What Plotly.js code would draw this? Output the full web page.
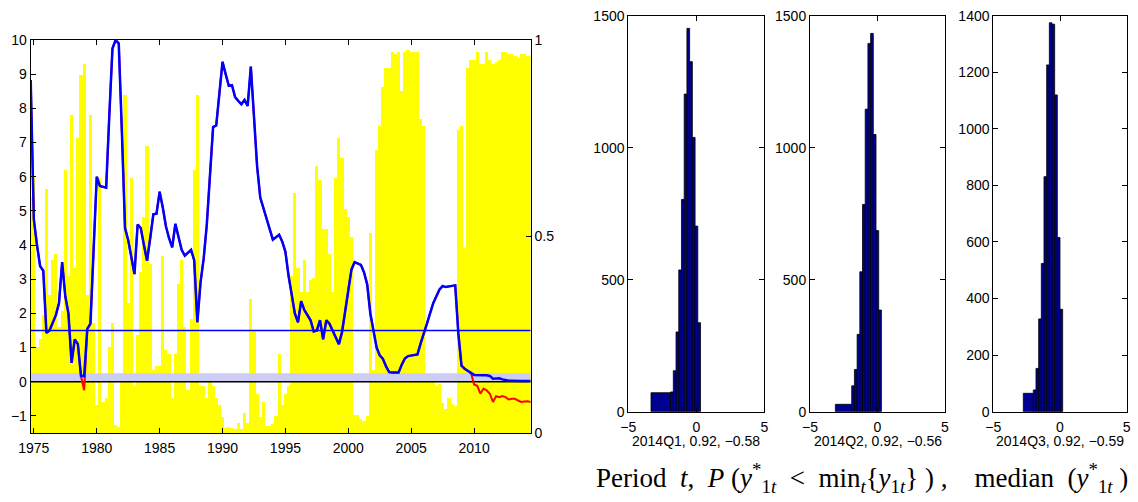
<!DOCTYPE html>
<html><head><meta charset="utf-8">
<script src="https://cdn.plot.ly/plotly-3.0.1.min.js"></script>
<style>html,body{margin:0;padding:0;background:#fff;} #chart{width:1138px;height:502px;}</style>
</head><body><div id="chart"></div>
<script>
// ---- data ----
const firstQuarter = 1974.75;   // time of first plotted quarter
const quarterStep = 0.25;
const probBars = [
0.60,0.65,0.22,0.24,0.30,0.62,0.35,0.44,0.455,0.27,
0.31,0.67,0.40,0.81,0.42,0.75,0.91,0.94,0.35,0.81,
0.28,0.07,0.65,0.08,0.09,0.22,0.28,0.02,0.015,0.15,
0.86,0.33,0.65,0.12,0.25,0.41,0.55,0.73,0.43,0.16,
0.17,0.17,0.45,0.21,0.20,0.09,0.20,0.38,0.44,0.27,
0.11,0.29,0.67,0.86,0.12,0.12,0.09,0.13,0.12,0.09,
0.07,0.04,0.014,0.015,0.014,0.01,0.026,0.01,0.05,0.026,
0.34,0.26,0.10,0.04,0.08,0.018,0.018,0.022,0.043,0.20,
0.07,0.10,0.12,0.40,0.61,0.42,0.36,0.44,0.36,0.39,
0.395,0.68,0.645,0.52,0.52,0.455,0.36,0.65,0.75,0.70,
0.57,0.55,0.50,0.047,0.045,0.035,0.03,0.043,0.51,0.16,
0.72,0.78,0.88,0.93,0.93,0.97,0.965,0.97,0.87,0.97,
0.975,0.97,0.97,0.97,0.80,0.78,0.13,0.13,0.13,0.12,
0.124,0.077,0.06,0.09,0.073,0.069,0.77,0.78,0.47,0.93,
0.95,0.95,0.97,0.94,0.94,0.97,0.95,0.94,0.945,0.95,
0.97,0.97,0.965,0.965,0.96,0.955,0.965,0.965,0.96,0.96];
const rateBlue = [
8.83,4.75,4.0,3.38,3.25,1.43,1.5,1.7,1.95,2.3,
3.5,2.5,2.0,0.55,1.24,1.1,0.17,0.17,1.55,1.7,
3.9,6.0,5.73,5.7,5.68,7.8,9.75,10.0,9.9,7.3,
4.5,4.15,3.6,3.15,4.6,4.5,4.0,3.54,4.2,4.9,
4.92,5.56,5.1,4.55,4.2,3.93,4.62,4.25,3.86,3.69,
3.78,3.86,3.55,1.74,2.9,3.6,4.6,6.0,7.45,7.5,
8.5,9.36,9.0,8.66,8.68,8.33,8.22,8.12,8.25,8.07,
9.22,7.8,6.3,5.39,5.1,4.74,4.45,4.16,4.23,4.3,
4.1,3.8,3.1,2.57,2.0,1.74,2.36,2.1,1.95,1.8,
1.47,1.5,1.8,1.24,1.8,1.7,1.5,1.28,1.1,1.45,
2.1,2.75,3.28,3.5,3.47,3.42,3.2,2.85,2.0,1.55,
1.0,0.77,0.67,0.45,0.28,0.27,0.26,0.27,0.5,0.68,
0.75,0.77,0.77,0.8,1.12,1.45,1.7,2.0,2.3,2.5,
2.7,2.8,2.77,2.79,2.8,2.82,1.4,0.47,0.38,0.31,
0.26,0.2,0.19,0.19,0.19,0.19,0.17,0.09,0.09,0.1,
0.07,0.04,0.03,0.03,0.02,0.02,0.02,0.02,0.02,0.02];
const rateRed = [
8.83,4.75,4.0,3.38,3.25,1.43,1.5,1.7,1.95,2.3,
3.5,2.5,2.0,0.55,1.24,1.1,0.16,-0.25,1.55,1.7,
3.9,6.0,5.73,5.7,5.68,7.8,9.75,10.0,9.9,7.3,
4.5,4.15,3.6,3.15,4.6,4.5,4.0,3.54,4.2,4.9,
4.92,5.56,5.1,4.55,4.2,3.93,4.62,4.25,3.86,3.69,
3.78,3.86,3.55,1.74,2.9,3.6,4.6,6.0,7.45,7.5,
8.5,9.36,9.0,8.66,8.68,8.33,8.22,8.12,8.25,8.07,
9.22,7.8,6.3,5.39,5.1,4.74,4.45,4.16,4.23,4.3,
4.1,3.8,3.1,2.57,2.0,1.74,2.36,2.1,1.95,1.8,
1.47,1.5,1.8,1.24,1.8,1.7,1.5,1.28,1.1,1.45,
2.1,2.75,3.28,3.5,3.47,3.42,3.2,2.85,2.0,1.55,
1.0,0.77,0.67,0.45,0.28,0.27,0.26,0.27,0.5,0.68,
0.75,0.77,0.77,0.8,1.12,1.45,1.7,2.0,2.3,2.5,
2.7,2.8,2.77,2.79,2.8,2.82,1.4,0.47,0.38,0.31,
0.26,-0.08,-0.12,-0.35,-0.2,-0.25,-0.35,-0.59,-0.42,-0.45,
-0.42,-0.45,-0.52,-0.5,-0.5,-0.55,-0.59,-0.58,-0.57,-0.59];
const bandTop = 0.25;
const refLevel = 1.5;
const xRange = [1974.75, 2014.5];
const xTickVals = [1975,1980,1985,1990,1995,2000,2005,2010];
const leftTickVals = [-1,0,1,2,3,4,5,6,7,8,9,10];
const rightTickVals = [0,0.5,1];

const hist1Edges = [-3.33,-1.89,-1.69,-1.49,-1.29,-1.09,-0.89,-0.69,-0.49,-0.29,-0.09,0.11,0.31];
const hist1Counts = [72,75,155,302,537,804,1203,1452,1326,1039,703,337];
const hist2Edges = [-3.12,-1.91,-1.71,-1.51,-1.31,-1.11,-0.91,-0.71,-0.51,-0.31,-0.11,0.09,0.29];
const hist2Counts = [28,98,160,293,530,785,1146,1395,1433,1050,686,385];
const hist3Edges = [-2.75,-2.0,-1.8,-1.6,-1.4,-1.2,-1.0,-0.8,-0.6,-0.4,-0.2,0.0,0.2];
const hist3Counts = [65,77,153,328,524,831,1226,1375,1370,1120,616,362];
const histLabels = ['2014Q1, 0.92, \u22120.58','2014Q2, 0.92, \u22120.56','2014Q3, 0.92, \u22120.59'];
const histYTicks = [[0,500,1000,1500],[0,500,1000,1500],[0,200,400,600,800,1000,1200,1400]];
const histYMax = [1500,1500,1400];
const captionText = 'Period&nbsp;&nbsp;<i>t</i>,&nbsp;&nbsp;<i>P</i>&nbsp;(<i>y</i><sup>*</sup><sub>1<i>t</i></sub>&nbsp;&nbsp;&lt;&nbsp;&nbsp;min<sub><i>t</i></sub>{<i>y</i><sub>1<i>t</i></sub>}&nbsp;)&nbsp;,&nbsp;&nbsp;&nbsp;&nbsp;median&nbsp;&nbsp;(<i>y</i><sup>*</sup><sub>1<i>t</i></sub>&nbsp;)';

// ---- build ----
const t = probBars.map((_, j) => firstQuarter + quarterStep * j);
const font = {family: '"Liberation Sans", Arial, sans-serif', size: 14, color: '#000'};

const traces = [];
traces.push({type:'bar', x:t, y:probBars, width:quarterStep, xaxis:'x', yaxis:'y',
  marker:{color:'#ffff00', line:{width:0}}, hoverinfo:'skip'});
traces.push({type:'scatter', mode:'lines', x:xRange, y:[bandTop,bandTop], fill:'tozeroy',
  fillcolor:'#ccccf4', line:{width:0, color:'#ccccf4'}, xaxis:'x', yaxis:'y2'});
traces.push({type:'scatter', mode:'lines', x:xRange, y:[0,0], line:{color:'#000', width:1.3}, xaxis:'x', yaxis:'y2'});
traces.push({type:'scatter', mode:'lines', x:xRange, y:[refLevel,refLevel], line:{color:'#0000ff', width:1.3}, xaxis:'x', yaxis:'y2'});
traces.push({type:'scatter', mode:'lines', x:t, y:rateRed, line:{color:'#ff0000', width:2}, xaxis:'x', yaxis:'y2'});
traces.push({type:'scatter', mode:'lines', x:t, y:rateBlue, line:{color:'#0000ff', width:2.5}, xaxis:'x', yaxis:'y2'});

const hists = [[hist1Edges,hist1Counts],[hist2Edges,hist2Counts],[hist3Edges,hist3Counts]];
hists.forEach((h, k) => {
  const e = h[0], c = h[1];
  const centers = c.map((_, i) => (e[i] + e[i+1]) / 2);
  const widths = c.map((_, i) => e[i+1] - e[i]);
  traces.push({type:'bar', x:centers, y:c, width:widths, xaxis:'x'+(k+2), yaxis:'y'+(k+3),
    marker:{color:'#00008f', line:{color:'#000', width:0.8}}});
});

const W = 1138, H = 502;
const px = (a, b) => [a / W, b / W];
const py = (top, bottom) => [1 - bottom / H, 1 - top / H];

const axBase = {showgrid:false, zeroline:false, showline:true, linecolor:'#000', linewidth:1,
  ticks:'inside', ticklen:5, tickcolor:'#000', tickfont:font, fixedrange:true};

const layout = {
  width:W, height:H, margin:{l:0,r:0,t:0,b:0}, showlegend:false,
  paper_bgcolor:'#fff', plot_bgcolor:'rgba(0,0,0,0)', bargap:0, barmode:'overlay',
  font: font,
  xaxis: Object.assign({}, axBase, {domain:px(30.7,530.7), range:xRange, tickvals:xTickVals, mirror:'ticks', anchor:'y', ticklabelstandoff:2}),
  yaxis: Object.assign({}, axBase, {domain:py(40,433), range:[0,1], tickvals:rightTickVals, side:'right', anchor:'x'}),
  yaxis2: Object.assign({}, axBase, {domain:py(40,433), range:[-1.5,10], tickvals:leftTickVals, side:'left', overlaying:'y', anchor:'x'}),
  annotations: [],
};
const histX = [[628.3,764.3],[810,945],[993.3,1126.7]];
for (let k = 0; k < 3; k++) {
  layout['xaxis'+(k+2)] = Object.assign({}, axBase, {domain:px(histX[k][0],histX[k][1]), range:[-5,5], tickvals:[-5,0,5], mirror:'ticks', anchor:'y'+(k+3), ticklabelstandoff:2});
  layout['yaxis'+(k+3)] = Object.assign({}, axBase, {domain:py(15.7,411.7), range:[0,histYMax[k]], tickvals:histYTicks[k], mirror:'ticks', anchor:'x'+(k+2)});
  layout.annotations.push({xref:'paper', yref:'paper', x:(histX[k][0]+histX[k][1])/2/W, y:1-441/H,
    text:histLabels[k], showarrow:false, xanchor:'center', yanchor:'middle', font:font});
}
layout.annotations.push({xref:'paper', yref:'paper', x:862/W, y:1-478/H, showarrow:false,
  xanchor:'center', yanchor:'middle',
  font:{family:'"Liberation Serif", "DejaVu Serif", serif', size:27, color:'#000'},
  text:captionText});

Plotly.newPlot('chart', traces, layout, {displayModeBar:false, staticPlot:true});
</script></body></html>
